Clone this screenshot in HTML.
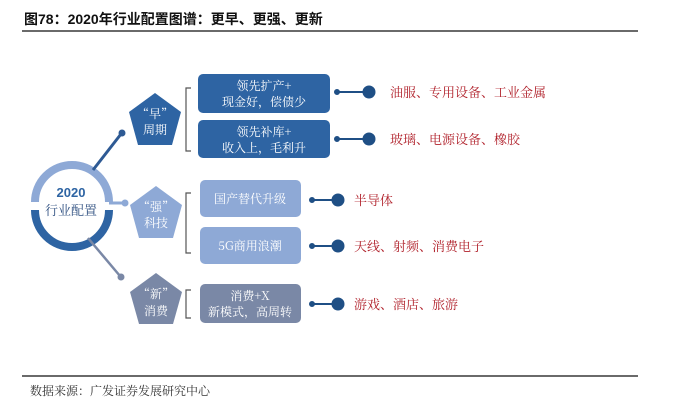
<!DOCTYPE html>
<html><head><meta charset="utf-8"><style>
body{margin:0;background:#fff;width:676px;height:411px;overflow:hidden;font-family:"Liberation Sans","Noto Sans CJK SC",sans-serif}
</style></head><body>
<svg width="676" height="411" xmlns="http://www.w3.org/2000/svg" style="position:absolute;left:0;top:0">
<text x="24" y="24" font-size="14" font-weight="bold" fill="#111" font-family="Liberation Sans,Noto Sans CJK SC,sans-serif">图78：2020年行业配置图谱：更早、更强、更新</text>
<line x1="22" y1="31" x2="638" y2="31" stroke="#111" stroke-width="1.2"/>
<line x1="22" y1="376" x2="638" y2="376" stroke="#111" stroke-width="1.2"/>
<text x="30" y="395" font-size="12" fill="#333" font-family="Noto Serif CJK SC,serif">数据来源：广发证券发展研究中心</text>
<path d="M35,202 A37,37 0 0 1 109,202" fill="none" stroke="#8ea9d6" stroke-width="8"/>
<path d="M35,210 A37,37 0 0 0 109,210" fill="none" stroke="#2e64a3" stroke-width="8"/>
<text x="71" y="197" font-size="13" font-weight="bold" fill="#2e64a3" text-anchor="middle">2020</text>
<text x="71" y="215" font-size="13" fill="#2e4f80" text-anchor="middle" font-family="Noto Serif CJK SC,serif">行业配置</text>
<line x1="93" y1="170" x2="121" y2="134" stroke="#2e5a94" stroke-width="3"/>
<circle cx="122" cy="133" r="3.5" fill="#2e5a94"/>
<line x1="109" y1="203" x2="124" y2="203" stroke="#8ea9d6" stroke-width="3"/>
<circle cx="125" cy="203" r="3.5" fill="#8ea9d6"/>
<line x1="88" y1="238" x2="120" y2="276" stroke="#7a88a6" stroke-width="2.5"/>
<circle cx="121" cy="277" r="3.5" fill="#7a88a6"/>
<polygon points="155,93 181,112 172,145 138,145 129,112" fill="#2e64a3"/>
<text x="155" y="118" font-size="12" fill="#fff" text-anchor="middle" font-family="Noto Serif CJK SC,serif">“早”</text>
<text x="155" y="134" font-size="12" fill="#fff" text-anchor="middle" font-family="Noto Serif CJK SC,serif">周期</text>
<polygon points="156,186 182,205 173,238 139,238 130,205" fill="#8ea9d6"/>
<text x="156" y="211" font-size="12" fill="#fff" text-anchor="middle" font-family="Noto Serif CJK SC,serif">“强”</text>
<text x="156" y="227" font-size="12" fill="#fff" text-anchor="middle" font-family="Noto Serif CJK SC,serif">科技</text>
<polygon points="156,273 182,292 173,324 139,324 130,292" fill="#7a88a6"/>
<text x="156" y="298" font-size="12" fill="#fff" text-anchor="middle" font-family="Noto Serif CJK SC,serif">“新”</text>
<text x="156" y="315" font-size="12" fill="#fff" text-anchor="middle" font-family="Noto Serif CJK SC,serif">消费</text>
<g fill="none" stroke="#555" stroke-width="1.2">
<path d="M191,88 H186 V151 H191"/>
<path d="M191,193 H186 V253 H191"/>
<path d="M191,290 H186 V318 H191"/>
</g>
<g font-family="Noto Serif CJK SC,serif" font-size="12" text-anchor="middle">
<rect x="198" y="74" width="132" height="39" rx="5" fill="#2e64a3"/>
<text x="264" y="90" fill="#fff">领先扩产+</text>
<text x="264" y="106" fill="#fff">现金好，偿债少</text>
<rect x="198" y="120" width="132" height="38" rx="5" fill="#2e64a3"/>
<text x="264" y="136" fill="#fff">领先补库+</text>
<text x="264" y="152" fill="#fff">收入上，毛利升</text>
<rect x="200" y="180" width="101" height="37" rx="5" fill="#8ea9d6"/>
<text x="250" y="203" fill="#fff">国产替代升级</text>
<rect x="200" y="227" width="101" height="37" rx="5" fill="#8ea9d6"/>
<text x="250" y="250" fill="#fff">5G商用浪潮</text>
<rect x="200" y="284" width="101" height="39" rx="5" fill="#7a88a6"/>
<text x="250" y="300" fill="#fff">消费+X</text>
<text x="250" y="316" fill="#fff">新模式，高周转</text>
</g>
<g stroke="#1f4f85" stroke-width="2" fill="#1f4f85">
<line x1="337" y1="92" x2="368" y2="92"/><circle cx="337" cy="92" r="2"/><circle cx="369" cy="92" r="5.5"/>
<line x1="337" y1="139" x2="368" y2="139"/><circle cx="337" cy="139" r="2"/><circle cx="369" cy="139" r="5.5"/>
<line x1="312" y1="200" x2="338" y2="200"/><circle cx="312" cy="200" r="2"/><circle cx="338" cy="200" r="5.5"/>
<line x1="312" y1="246" x2="338" y2="246"/><circle cx="312" cy="246" r="2"/><circle cx="338" cy="246" r="5.5"/>
<line x1="312" y1="304" x2="338" y2="304"/><circle cx="312" cy="304" r="2"/><circle cx="338" cy="304" r="5.5"/>
</g>
<g font-family="Noto Serif CJK SC,serif" font-size="13" fill="#b0202a">
<text x="390" y="97">油服、专用设备、工业金属</text>
<text x="390" y="144">玻璃、电源设备、橡胶</text>
<text x="354" y="205">半导体</text>
<text x="354" y="251">天线、射频、消费电子</text>
<text x="354" y="309">游戏、酒店、旅游</text>
</g>
</svg>
</body></html>
